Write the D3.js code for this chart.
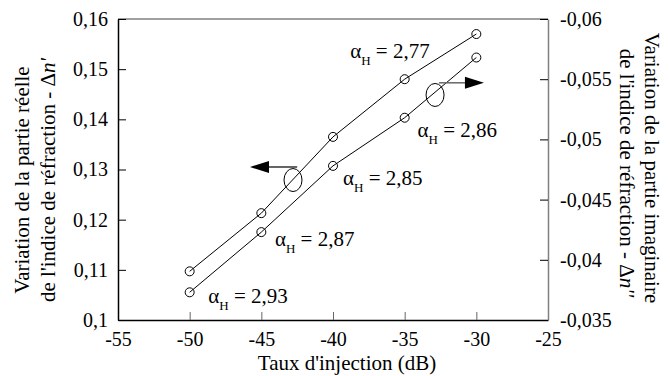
<!DOCTYPE html>
<html>
<head>
<meta charset="utf-8">
<script src="https://cdn.jsdelivr.net/npm/d3@7"></script>
<style>
    body { margin: 0; background: #fff; }
</style>
</head>
<body>
<div id="chart-container"></div>
<script>
// Injection ratio (dB) and measured index variations
const injection = [-50, -45, -40, -35, -30];
const deltaReal = [0.1097, 0.1213, 0.1365, 0.1480, 0.1570];       // left axis, Δn'
const deltaImag = [-0.0373, -0.0423, -0.0478, -0.0518, -0.0568];  // right axis, Δn''

// Tick values
const xTicks = [-55, -50, -45, -40, -35, -30, -25];
const leftTicks = [0.1, 0.11, 0.12, 0.13, 0.14, 0.15, 0.16];
const rightTicks = [-0.035, -0.04, -0.045, -0.05, -0.055, -0.06];

// αH annotations (x in dB, y in left-axis units)
const alphaText = ['2,77', '2,86', '2,85', '2,87', '2,93'];
const alphaX = [-38.8, -34.1, -39.3, -44.05, -48.7];
const alphaY = [0.1522, 0.1365, 0.1269, 0.1148, 0.1034];

const width = 670, height = 376;
const plot = { left: 118, right: 548, top: 19, bottom: 320 };
const serif = 'Liberation Serif';

const svg = d3.select('#chart-container')
    .append('svg')
    .attr('width', width)
    .attr('height', height)
    .style('font-family', serif);

// Scales
const x = d3.scaleLinear().domain([-55, -25]).range([plot.left, plot.right]);
const yL = d3.scaleLinear().domain([0.1, 0.16]).range([plot.bottom, plot.top]);
const yR = d3.scaleLinear().domain([-0.035, -0.06]).range([plot.bottom, plot.top]);

const fmt = v => String(v).replace('.', ',');

// Frame: top border in grey
svg.append('line')
    .attr('x1', plot.left).attr('x2', plot.right)
    .attr('y1', plot.top).attr('y2', plot.top)
    .attr('stroke', '#808080').attr('stroke-width', 1.5);

// Bottom axis
const xAxis = svg.append('g')
    .attr('transform', `translate(0,${plot.bottom})`)
    .call(d3.axisBottom(x).tickValues(xTicks).tickSizeInner(-8).tickSizeOuter(0).tickPadding(12).tickFormat(fmt));
xAxis.select('.domain').attr('stroke', '#000').attr('stroke-width', 1.5);
xAxis.selectAll('.tick line').attr('stroke', '#666');

// Left axis
const leftAxis = svg.append('g')
    .attr('transform', `translate(${plot.left},0)`)
    .call(d3.axisLeft(yL).tickValues(leftTicks).tickSizeInner(-8).tickSizeOuter(0).tickPadding(10).tickFormat(fmt));
leftAxis.select('.domain').attr('stroke', '#000').attr('stroke-width', 1.5);

// Right axis
const rightAxis = svg.append('g')
    .attr('transform', `translate(${plot.right},0)`)
    .call(d3.axisRight(yR).tickValues(rightTicks).tickSizeInner(-8).tickSizeOuter(0).tickPadding(12).tickFormat(fmt));
rightAxis.select('.domain').attr('stroke', '#808080').attr('stroke-width', 1.5);

// axis() sets font-family="sans-serif" on its group; replace it
svg.selectAll('g').attr('font-family', null).style('font-family', serif);
svg.selectAll('.tick text')
    .attr('font-size', 20)
    .attr('fill', '#000');

// Axis titles
svg.append('text')
    .attr('x', 347).attr('y', 370)
    .attr('text-anchor', 'middle')
    .attr('font-size', 21)
    .text("Taux d'injection (dB)");

const leftTitle = svg.append('text')
    .attr('transform', 'translate(0,180) rotate(-90)')
    .attr('text-anchor', 'middle')
    .attr('font-size', 21);
leftTitle.append('tspan').attr('x', 0).attr('y', 29).text('Variation de la partie réelle');
const l2 = leftTitle.append('tspan').attr('x', 0).attr('y', 55).text("de l'indice de réfraction - Δ");
l2.append('tspan').attr('font-style', 'italic').text("n'");

svg.append('text')
    .attr('transform', 'translate(645,168) rotate(90)')
    .attr('text-anchor', 'middle')
    .attr('font-size', 21)
    .text('Variation de la partie imaginaire');
const r2 = svg.append('text')
    .attr('transform', 'translate(620,173) rotate(90)')
    .attr('text-anchor', 'middle')
    .attr('font-size', 21)
    .text("de l'indice de réfraction - Δ");
r2.append('tspan').attr('font-style', 'italic').text("n''");

// Series lines
const realPts = injection.map((d, i) => [x(d), yL(deltaReal[i])]);
const imagPts = injection.map((d, i) => [x(d), yR(deltaImag[i])]);
const line = d3.line();

[realPts, imagPts].forEach(pts => {
    svg.append('path')
        .attr('d', line(pts))
        .attr('fill', 'none')
        .attr('stroke', '#000')
        .attr('stroke-width', 1);
    svg.selectAll(null)
        .data(pts)
        .enter()
        .append('circle')
        .attr('cx', d => d[0])
        .attr('cy', d => d[1])
        .attr('r', 4.5)
        .attr('fill', 'none')
        .attr('stroke', '#000')
        .attr('stroke-width', 1);
});

// Ellipses with arrows pointing to the matching axis
function arrow(x1, x2, yPix, color) {
    const dir = x2 < x1 ? 1 : -1;
    svg.append('line')
        .attr('x1', x1).attr('x2', x2 + dir * 17)
        .attr('y1', yPix).attr('y2', yPix)
        .attr('stroke', color).attr('stroke-width', 1.5);
    svg.append('path')
        .attr('d', `M${x2},${yPix} L${x2 + dir * 19},${yPix - 6} L${x2 + dir * 19},${yPix + 6} Z`)
        .attr('fill', '#000');
}

svg.append('ellipse')
    .attr('cx', x(-42.79)).attr('cy', yL(0.1279))
    .attr('rx', 9).attr('ry', 11.5)
    .attr('fill', 'none').attr('stroke', '#000').attr('stroke-width', 1);
arrow(x(-42.5), x(-45.79), yL(0.1305), '#333');

svg.append('ellipse')
    .attr('cx', x(-32.88)).attr('cy', yR(-0.05369))
    .attr('rx', 9).attr('ry', 11.5)
    .attr('fill', 'none').attr('stroke', '#000').attr('stroke-width', 1);
arrow(x(-32.6), x(-29.47), yR(-0.0547), '#666');

// αH labels
alphaText.forEach((t, i) => {
    const txt = svg.append('text')
        .attr('x', x(alphaX[i]))
        .attr('y', yL(alphaY[i]))
        .attr('font-size', 21)
        .text('α');
    txt.append('tspan').attr('font-size', 13).attr('dy', 7).text('H');
    txt.append('tspan').attr('dy', -7).text(' = ' + t);
});
</script>
</body>
</html>
